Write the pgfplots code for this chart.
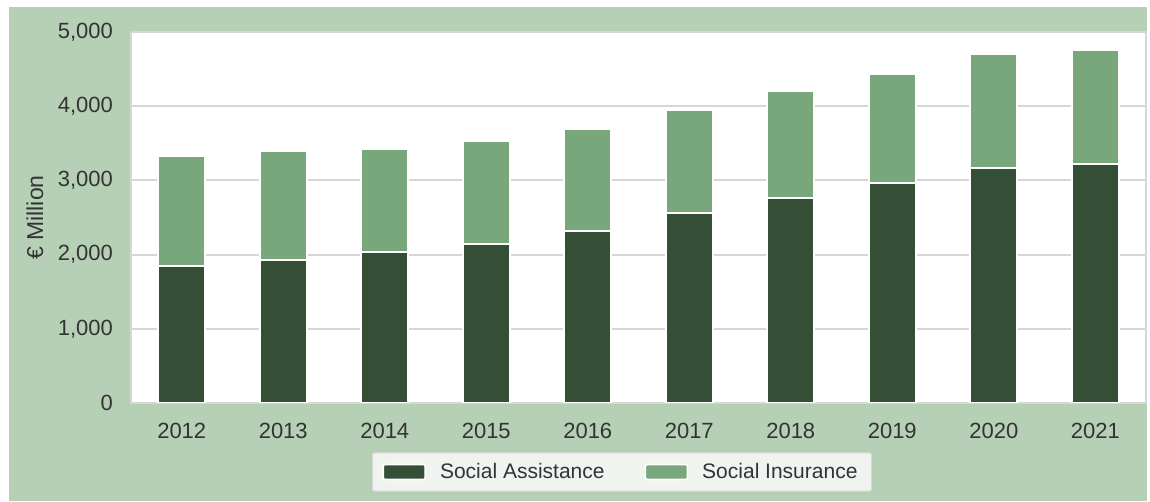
\documentclass[border=0pt]{standalone}
\usepackage{fontspec}
\setmainfont{Liberation Sans}
\usepackage{pgfplots}
\pgfplotsset{compat=1.18}
\definecolor{bgg}{HTML}{B6D0B6}
\definecolor{darkg}{HTML}{344F36}
\definecolor{lightg}{HTML}{77A77B}
\definecolor{txt}{HTML}{333333}
\definecolor{gridc}{HTML}{D6D6D6}
\definecolor{legfill}{HTML}{F0F4F0}
\begin{document}
\begin{tikzpicture}
\fill[white] (0pt,0pt) rectangle (575pt,251pt);
\fill[bgg] (4.5pt,0.5pt) rectangle (573.5pt,247.5pt);
\begin{axis}[
  at={(65.5pt,49.5pt)}, anchor=south west,
  scale only axis, width=507.5pt, height=185.5pt,
  axis background/.style={fill=white},
  ybar stacked, bar width=23.5pt,
  xmin=-0.5, xmax=9.5, ymin=0, ymax=5000,
  xtick=data,
  xticklabels={2012,2013,2014,2015,2016,2017,2018,2019,2020,2021},
  ytick={0,1000,2000,3000,4000,5000},
  yticklabels={0,{1,000},{2,000},{3,000},{4,000},{5,000}},
  ymajorgrids, grid style={gridc, line width=1pt},
  major tick length=0pt,
  axis line style={gridc, line width=0.8pt},
  tick label style={font=\fontsize{11}{13}\selectfont, text=txt},
  yticklabel style={xshift=-5.5pt},
  xticklabel style={yshift=-6.5pt},
  ylabel={€ Million},
  every axis y label/.style={at={(rel axis cs:-0.0946,0.5)}, anchor=center, rotate=90,
    font=\fontsize{11.5}{13}\selectfont, text=txt},
  legend columns=2,
  legend style={at={(0.4837,-0.186)}, anchor=center, fill=legfill, draw=gridc,
    rounded corners=1pt, font=\fontsize{10.5}{12}\selectfont, text=txt,
    inner xsep=5pt, inner ysep=3pt,
    /tikz/every odd column/.append style={column sep=5pt},
    /tikz/every even column/.append style={column sep=18pt}},
  legend image code/.code={\draw[#1, line width=0.8pt] (0pt,-3.75pt) rectangle (21pt,3.75pt);},
]
\addplot[fill=darkg, draw=white, line width=1pt] coordinates {
  (0,1850) (1,1930) (2,2040) (3,2145) (4,2320)
  (5,2560) (6,2765) (7,2970) (8,3170) (9,3225)
};
\addlegendentry{Social Assistance}
\addplot[fill=lightg, draw=white, line width=1pt] coordinates {
  (0,1480) (1,1465) (2,1385) (3,1390) (4,1370)
  (5,1390) (6,1440) (7,1465) (8,1535) (9,1530)
};
\addlegendentry{Social Insurance}
\end{axis}
\end{tikzpicture}
\end{document}
